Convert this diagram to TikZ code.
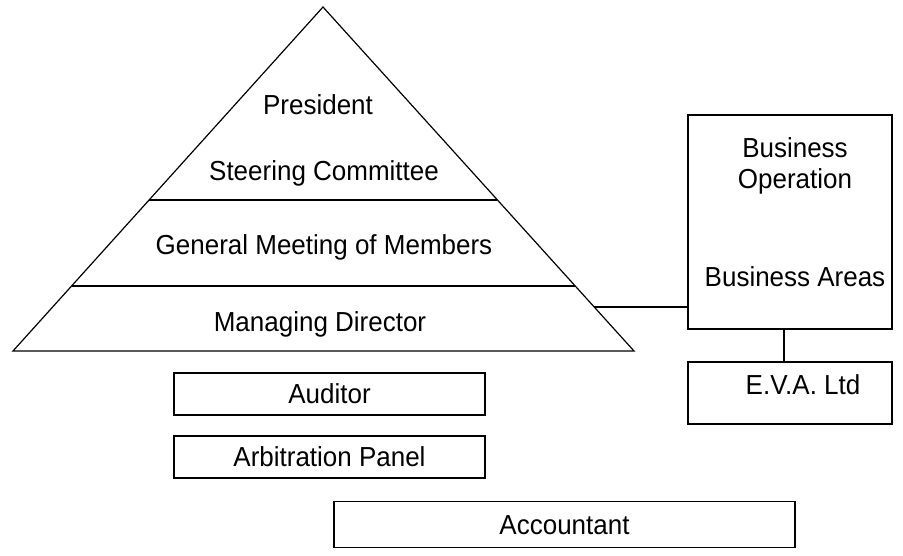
\documentclass[tikz,border=0pt]{standalone}
\usepackage{fontspec}
\setmainfont[FakeStretch=0.945]{Liberation Sans}
\usetikzlibrary{calc}

\begin{document}
\begin{tikzpicture}[x=1pt,y=-1pt,line width=1.2pt,
  txt/.style={inner sep=0pt,font=\fontsize{27.5}{31}\selectfont,text height=19pt,text depth=0pt},
  box/.style={txt,draw,minimum width=311pt,minimum height=42pt}]
\useasboundingbox (0,0) rectangle (903,555);

% pyramid
\coordinate (top) at (323,7);
\coordinate (bl) at (13,351);
\coordinate (br) at (634,351);
\coordinate (tri) at ($(top)!0.872!(br)$);
\draw (top) -- (br) -- (bl) -- cycle;
\draw ($(top)!0.561!(bl)$) -- ($(top)!0.561!(br)$);
\draw ($(top)!0.811!(bl)$) -- ($(top)!0.811!(br)$);

\node[txt] (pres) at (318,105) {President};
\node[txt] (steer) at (324,171) {Steering Committee};
\node[txt] (gmm) at (324,245) {General Meeting of Members};
\node[txt] (md) at (320,322) {Managing Director};

% business side
\node[draw,minimum width=204pt,minimum height=214pt] (ops) at (790,222) {};
\node[txt] (bus) at (795,148) {Business};
\node[txt] (oper) at (795,179) {Operation};
\node[txt] (areas) at (795,277) {Business Areas};
\node[draw,minimum width=204pt,minimum height=62pt] (eva) at (790,393) {};
\node[txt] (evatxt) at (803,385) {E.V.A. Ltd};

\draw (tri) -- (tri -| ops.west);
\draw ([xshift=-6pt]ops.south) -- ([xshift=-6pt]eva.north);

% boxes below
\node[box] (aud) at (329.5,394) {Auditor};
\node[box] (arb) at (329.5,457) {Arbitration Panel};
\node[box,minimum width=461pt,minimum height=46pt] (acc) at (564.5,524.5) {Accountant};

\end{tikzpicture}
\end{document}
